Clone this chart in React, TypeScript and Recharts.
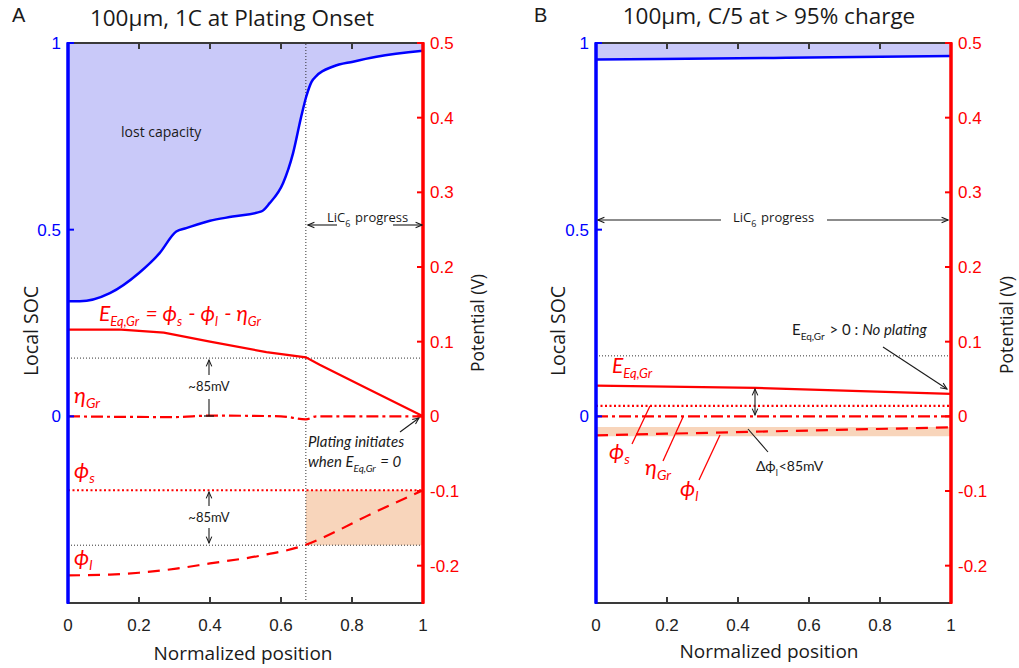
import React from 'react'
import { ComposedChart, Line, Area, XAxis, YAxis, ReferenceLine, ReferenceArea } from 'recharts'

// Panel A: 100um, 1C at plating onset
const socPosA = [0, 0.033, 0.118, 0.2, 0.258, 0.305, 0.333, 0.4, 0.464, 0.545, 0.568, 0.606, 0.634, 0.657, 0.671, 0.686, 0.7, 0.747, 0.803, 0.869, 1]
const socA = [0.308, 0.308, 0.33, 0.384, 0.437, 0.495, 0.504, 0.524, 0.535, 0.549, 0.571, 0.625, 0.705, 0.803, 0.856, 0.896, 0.912, 0.937, 0.95, 0.963, 0.979]
const ePosA = [0, 0.15, 0.27, 0.4, 0.559, 0.67, 0.709, 0.84, 1]
const eA = [0.116, 0.116, 0.112, 0.1, 0.086, 0.079, 0.069, 0.038, 0]
const etaPosA = [0, 0.3, 0.4, 0.6, 0.67, 0.7, 1]
const etaA = [0, -0.001, 0.001, 0, -0.004, 0, 0]
const phisPosA = [0, 1]
const phisA = [-0.099, -0.099]
const philPosA = [0, 0.118, 0.2, 0.305, 0.4, 0.537, 0.67, 0.747, 0.84, 1]
const philA = [-0.213, -0.212, -0.2095, -0.204, -0.197, -0.187, -0.172, -0.156, -0.134, -0.099]
const shadeA = [0.67, 1, -0.1726, -0.099]
const guidesA = [0.078, -0.1726]

// Panel B: 100um, C/5 at > 95% charge
const socPosB = [0, 0.5, 1]
const socB = [0.956, 0.96, 0.965]
const ePosB = [0, 0.45, 1]
const eB = [0.041, 0.038, 0.03]
const etaPosB = [0, 1]
const etaB = [0, 0]
const phisPosB = [0, 1]
const phisB = [0.014, 0.014]
const philPosB = [0, 1]
const philB = [-0.0254, -0.0147]
const shadeB = [0, 1, -0.0268, -0.0142]
const guidesB = [0.081]

const xTicks = [0, 0.2, 0.4, 0.6, 0.8, 1]
const socTicks = [0, 0.5, 1]
const vTicks = [-0.2, -0.1, 0, 0.1, 0.2, 0.3, 0.4, 0.5]
const socDomain = [-0.5, 1]
const vDomain = [-0.25, 0.5]

const BLUE = '#0000ff'
const RED = '#ff0000'
const AXIS = '#3a3a3a'
const FILL_SOC = '#c9c9f9'
const FILL_PL = '#f8d5bb'
const TICK_FONT = "'Liberation Sans', Arial, sans-serif"
const LABEL_FONT = "'Open Sans', 'Noto Sans', sans-serif"
const SMALL_FONT = "Lato, 'Noto Sans', sans-serif"

// plot box, shared by both panels (page px)
const PLOT_TOP = 43
const PLOT_H = 560
const PLOT_W = 355
const PANEL_LEFT = [0, 528]
const PLOT_INSET = 68

const zip = (xs: number[], ys: number[]) => xs.map((x, i) => ({ x, v: ys[i] }))

type Pt = { x: number; v: number }
type PanelProps = {
  width: number
  soc: Pt[]
  e: Pt[]
  eta: Pt[]
  phis: Pt[]
  phil: Pt[]
  shade: number[]
  guides: number[]
  plateX?: number
}

const Panel = ({ width, soc, e, eta, phis, phil, shade, guides, plateX }: PanelProps) => (
  <ComposedChart
    width={width}
    height={668}
    margin={{ top: PLOT_TOP, right: width - PLOT_INSET - PLOT_W - 60, bottom: 668 - PLOT_TOP - PLOT_H - 30, left: PLOT_INSET - 40 }}
  >
    <XAxis
      xAxisId="b"
      dataKey="x"
      type="number"
      domain={[0, 1]}
      ticks={xTicks}
      allowDataOverflow
      height={30}
      axisLine={{ stroke: AXIS, strokeWidth: 2 }}
      tickLine={false}
      tickSize={0}
      tickMargin={16}
      tick={{ fill: '#222', fontSize: 17, fontFamily: TICK_FONT }}
    />
    <YAxis
      yAxisId="soc"
      type="number"
      domain={socDomain}
      ticks={socTicks}
      allowDataOverflow
      width={40}
      axisLine={{ stroke: BLUE, strokeWidth: 3 }}
      tickLine={false}
      tickSize={0}
      tickMargin={7}
      tick={{ fill: BLUE, fontSize: 17, fontFamily: TICK_FONT }}
    />
    <YAxis
      yAxisId="v"
      orientation="right"
      type="number"
      domain={vDomain}
      ticks={vTicks}
      allowDataOverflow
      width={60}
      axisLine={{ stroke: RED, strokeWidth: 3 }}
      tickLine={false}
      tickSize={0}
      tickMargin={7}
      tick={{ fill: RED, fontSize: 17, fontFamily: TICK_FONT }}
    />
    <ReferenceArea
      xAxisId="b"
      yAxisId="v"
      x1={shade[0]}
      x2={shade[1]}
      y1={shade[2]}
      y2={shade[3]}
      fill={FILL_PL}
      fillOpacity={1}
      stroke="none"
      ifOverflow="visible"
    />
    <Area
      data={soc}
      xAxisId="b"
      yAxisId="soc"
      dataKey={(d: Pt) => [d.v, 1]}
      type="monotone"
      stroke="none"
      fill={FILL_SOC}
      fillOpacity={1}
      isAnimationActive={false}
    />
    {guides.map((g) => (
      <ReferenceLine key={g} xAxisId="b" yAxisId="v" y={g} stroke="#333" strokeWidth={1} strokeDasharray="1 2" />
    ))}
    {plateX !== undefined && (
      <ReferenceLine xAxisId="b" yAxisId="v" x={plateX} stroke="#333" strokeWidth={1} strokeDasharray="1 2" />
    )}
    <Line data={soc} xAxisId="b" yAxisId="soc" dataKey="v" type="monotone" stroke={BLUE} strokeWidth={2.5} dot={false} isAnimationActive={false} />
    <Line data={e} xAxisId="b" yAxisId="v" dataKey="v" type="linear" stroke={RED} strokeWidth={2.2} dot={false} isAnimationActive={false} />
    <Line data={eta} xAxisId="b" yAxisId="v" dataKey="v" type="monotone" stroke={RED} strokeWidth={2.2} strokeDasharray="12 4 3 4" dot={false} isAnimationActive={false} />
    <Line data={phis} xAxisId="b" yAxisId="v" dataKey="v" type="linear" stroke={RED} strokeWidth={2.2} strokeDasharray="2 2.5" dot={false} isAnimationActive={false} />
    <Line data={phil} xAxisId="b" yAxisId="v" dataKey="v" type="monotone" stroke={RED} strokeWidth={2.2} strokeDasharray="12 8" dot={false} isAnimationActive={false} />
  </ComposedChart>
)

// inward tick marks and the top frame line, laid over both plots
const yOf = (v: number, dom: number[]) => PLOT_TOP + PLOT_H * (1 - (v - dom[0]) / (dom[1] - dom[0]))
const Frame = ({ left }: { left: number }) => {
  const x0 = left + PLOT_INSET
  const x1 = x0 + PLOT_W
  const bottom = PLOT_TOP + PLOT_H
  return (
    <g>
      <line x1={x0} x2={x1} y1={PLOT_TOP} y2={PLOT_TOP} stroke={AXIS} strokeWidth={2} />
      {xTicks.slice(1, -1).map((t) => (
        <g key={t}>
          <line x1={x0 + t * PLOT_W} x2={x0 + t * PLOT_W} y1={PLOT_TOP} y2={PLOT_TOP + 6} stroke={AXIS} strokeWidth={2} />
          <line x1={x0 + t * PLOT_W} x2={x0 + t * PLOT_W} y1={bottom} y2={bottom - 6} stroke={AXIS} strokeWidth={2} />
        </g>
      ))}
      {socTicks.map((t) => (
        <line key={t} x1={x0} x2={x0 + 6} y1={yOf(t, socDomain)} y2={yOf(t, socDomain)} stroke={BLUE} strokeWidth={2} />
      ))}
      {vTicks.map((t) => (
        <line key={t} x1={x1} x2={x1 - 6} y1={yOf(t, vDomain)} y2={yOf(t, vDomain)} stroke={RED} strokeWidth={2} />
      ))}
      <line x1={x0} x2={x0} y1={PLOT_TOP - 1} y2={bottom + 1} stroke={BLUE} strokeWidth={3} />
      <line x1={x1} x2={x1} y1={PLOT_TOP - 1} y2={bottom + 1} stroke={RED} strokeWidth={3} />
    </g>
  )
}

const Sub = ({ children, size }: { children: string; size: number }) => (
  <>
    <tspan fontSize={size} dy={5}>{children}</tspan>
    <tspan dy={-5}>{'\u200a'}</tspan>
  </>
)

const ink = '#1a1a1a'
const arrow = { stroke: ink, strokeWidth: 1.1, fill: 'none' }

const Overlay = () => (
  <svg width={1019} height={668} style={{ position: 'absolute', left: 0, top: 0, pointerEvents: 'none' }}>
    <defs>
      <marker id="ah" viewBox="0 0 10 10" refX="9" refY="5" markerWidth="8" markerHeight="8" orient="auto-start-reverse" markerUnits="userSpaceOnUse">
        <path d="M1,1.5 L9,5 L1,8.5" fill="none" stroke={ink} strokeWidth="1.3" />
      </marker>
      <marker id="bar" viewBox="0 0 10 10" refX="5" refY="5" markerWidth="10" markerHeight="10" orient="auto" markerUnits="userSpaceOnUse">
        <path d="M5,0 L5,10" stroke={ink} strokeWidth="1.3" />
      </marker>
    </defs>

    {PANEL_LEFT.map((l) => <Frame key={l} left={l} />)}

    {/* panel A */}
    <text x={12} y={22} fontSize={20} fontFamily={TICK_FONT} fill={ink}>A</text>
    <text x={232} y={26} fontSize={22.5} fontFamily={LABEL_FONT} fill={ink} textAnchor="middle">100μm, 1C at Plating Onset</text>
    <text transform="translate(38,331) rotate(-90)" fontSize={19.5} fontFamily={LABEL_FONT} fill={ink} textAnchor="middle">Local SOC</text>
    <text transform="translate(484,323) rotate(-90)" fontSize={17.5} fontFamily={LABEL_FONT} fill={ink} textAnchor="middle">Potential (V)</text>
    <text x={243} y={660} fontSize={19} fontFamily={LABEL_FONT} fill={ink} textAnchor="middle">Normalized position</text>
    <text x={121} y={137} fontSize={14} fontFamily={LABEL_FONT} fill={ink}>lost capacity</text>

    <line x1={337} y1={225} x2={308} y2={225} {...arrow} markerEnd="url(#ah)" />
    <line x1={393} y1={225} x2={422} y2={225} {...arrow} markerEnd="url(#ah)" />
    <text x={327} y={222} fontSize={13} fontFamily={LABEL_FONT} fill={ink}>LiC<Sub size={9}>6</Sub> progress</text>

    <text x={99} y={321} fontSize={21} fontFamily={SMALL_FONT} fontStyle="italic" fill={RED}>
      E<Sub size={13}>Eq,Gr</Sub> = ϕ<Sub size={13}>s</Sub> - ϕ<Sub size={13}>l</Sub> - η<Sub size={13}>Gr</Sub>
    </text>
    <text x={74} y={403} fontSize={22} fontFamily={SMALL_FONT} fontStyle="italic" fill={RED}>η<Sub size={14}>Gr</Sub></text>
    <text x={74} y={478} fontSize={22} fontFamily={SMALL_FONT} fontStyle="italic" fill={RED}>ϕ<Sub size={14}>s</Sub></text>
    <text x={74} y={565} fontSize={22} fontFamily={SMALL_FONT} fontStyle="italic" fill={RED}>ϕ<Sub size={14}>l</Sub></text>

    <line x1={209} y1={375} x2={209} y2={360} {...arrow} markerEnd="url(#ah)" />
    <text x={209} y={391} fontSize={13} fontFamily={SMALL_FONT} fill={ink} textAnchor="middle">~85mV</text>
    <line x1={209} y1={399} x2={209} y2={416} {...arrow} markerEnd="url(#bar)" />
    <line x1={209} y1={506} x2={209} y2={492} {...arrow} markerEnd="url(#ah)" />
    <text x={209} y={522} fontSize={13} fontFamily={SMALL_FONT} fill={ink} textAnchor="middle">~85mV</text>
    <line x1={209} y1={528} x2={209} y2={543} {...arrow} markerEnd="url(#ah)" />

    <text x={308} y={447} fontSize={15} fontFamily={SMALL_FONT} fontStyle="italic" fill={ink}>Plating initiates</text>
    <text x={308} y={467} fontSize={15} fontFamily={SMALL_FONT} fontStyle="italic" fill={ink}>
      when E<Sub size={10}>Eq,Gr</Sub> = 0
    </text>
    <line x1={400} y1={432} x2={419} y2={418} {...arrow} markerEnd="url(#ah)" />

    {/* panel B */}
    <text x={534} y={22} fontSize={20} fontFamily={TICK_FONT} fill={ink}>B</text>
    <text x={769} y={24} fontSize={22.5} fontFamily={LABEL_FONT} fill={ink} textAnchor="middle">100μm, C/5 at &gt; 95% charge</text>
    <text transform="translate(565,331) rotate(-90)" fontSize={19.5} fontFamily={LABEL_FONT} fill={ink} textAnchor="middle">Local SOC</text>
    <text transform="translate(1013,325) rotate(-90)" fontSize={17.5} fontFamily={LABEL_FONT} fill={ink} textAnchor="middle">Potential (V)</text>
    <text x={769} y={658} fontSize={19} fontFamily={LABEL_FONT} fill={ink} textAnchor="middle">Normalized position</text>

    <line x1={721} y1={220} x2={598} y2={220} {...arrow} markerEnd="url(#ah)" />
    <line x1={827} y1={220} x2={948} y2={220} {...arrow} markerEnd="url(#ah)" />
    <text x={733} y={222} fontSize={13} fontFamily={LABEL_FONT} fill={ink}>LiC<Sub size={9}>6</Sub> progress</text>

    <text x={612} y={373} fontSize={21} fontFamily={SMALL_FONT} fontStyle="italic" fill={RED}>E<Sub size={13}>Eq,Gr</Sub></text>
    <text x={792} y={335} fontSize={15} fontFamily={SMALL_FONT} fill={ink}>
      E<Sub size={10}>Eq,Gr</Sub> &gt; 0 : <tspan fontStyle="italic">No plating</tspan>
    </text>
    <line x1={883} y1={347} x2={947} y2={389} {...arrow} markerEnd="url(#ah)" />
    <line x1={755} y1={389} x2={755} y2={415} {...arrow} markerStart="url(#ah)" markerEnd="url(#ah)" />

    <line x1={650} y1={406} x2={632} y2={444} stroke={RED} strokeWidth={1.3} />
    <line x1={683} y1={417} x2={663} y2={461} stroke={RED} strokeWidth={1.3} />
    <line x1={720} y1={435} x2={699} y2={480} stroke={RED} strokeWidth={1.3} />
    <text x={609} y={459} fontSize={22} fontFamily={SMALL_FONT} fontStyle="italic" fill={RED}>ϕ<Sub size={14}>s</Sub></text>
    <text x={645} y={475} fontSize={22} fontFamily={SMALL_FONT} fontStyle="italic" fill={RED}>η<Sub size={14}>Gr</Sub></text>
    <text x={680} y={496} fontSize={22} fontFamily={SMALL_FONT} fontStyle="italic" fill={RED}>ϕ<Sub size={14}>l</Sub></text>

    <line x1={768} y1={452} x2={748} y2={429} stroke={ink} strokeWidth={1.1} />
    <text x={756} y={471} fontSize={14} fontFamily={SMALL_FONT} fill={ink}>
      Δϕ<Sub size={9}>l</Sub>&lt;85mV
    </text>
  </svg>
)

export default function App() {
  return (
    <div style={{ position: 'absolute', left: 0, top: 0, width: 1019, height: 668, background: '#fff', overflow: 'hidden' }}>
      <div style={{ position: 'absolute', left: PANEL_LEFT[0], top: 0 }}>
        <Panel
          width={500}
          soc={zip(socPosA, socA)}
          e={zip(ePosA, eA)}
          eta={zip(etaPosA, etaA)}
          phis={zip(phisPosA, phisA)}
          phil={zip(philPosA, philA)}
          shade={shadeA}
          guides={guidesA}
          plateX={0.67}
        />
      </div>
      <div style={{ position: 'absolute', left: PANEL_LEFT[1], top: 0 }}>
        <Panel
          width={491}
          soc={zip(socPosB, socB)}
          e={zip(ePosB, eB)}
          eta={zip(etaPosB, etaB)}
          phis={zip(phisPosB, phisB)}
          phil={zip(philPosB, philB)}
          shade={shadeB}
          guides={guidesB}
        />
      </div>
      <Overlay />
    </div>
  )
}
